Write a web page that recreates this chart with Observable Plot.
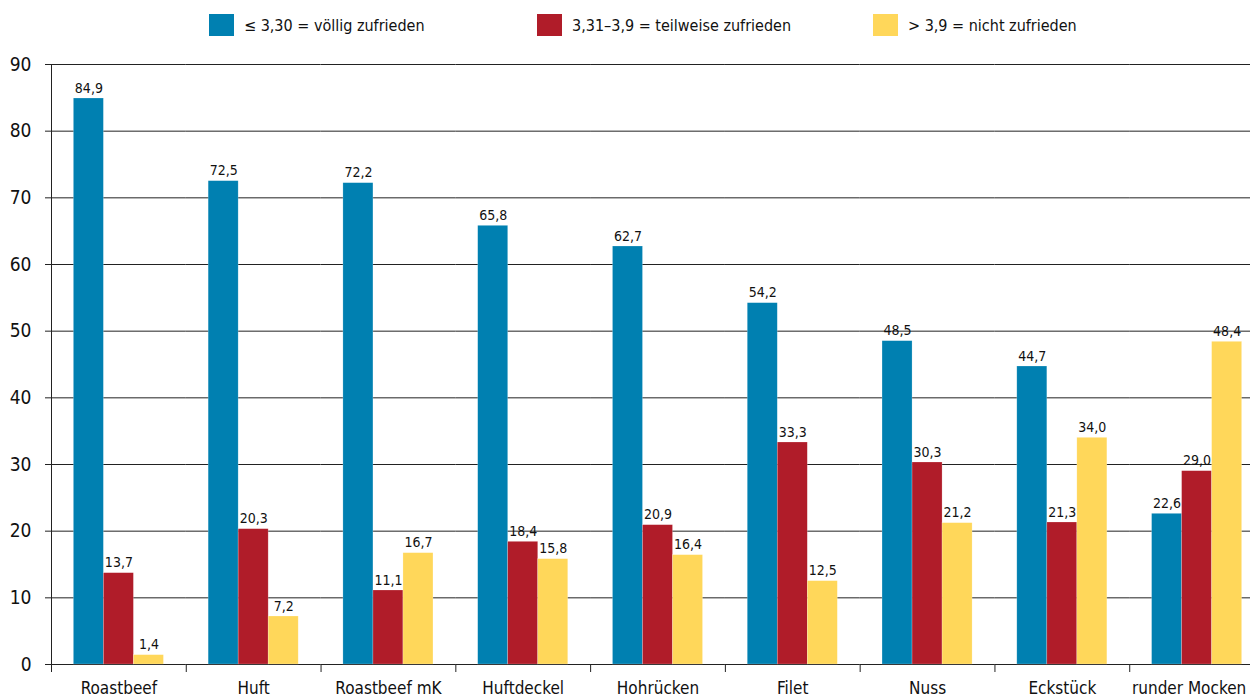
<!DOCTYPE html>
<html><head><meta charset="utf-8">
<script src="https://cdn.jsdelivr.net/npm/d3@7"></script>
<script src="https://cdn.jsdelivr.net/npm/@observablehq/plot@0.6"></script>
<style>
html,body{margin:0;padding:0;overflow:hidden;background:#fff;font-family:"DejaVu Sans Condensed","Liberation Sans Narrow",sans-serif;}
#legend{position:relative;height:50px;width:1250px;}
.item{position:absolute;top:14px;display:flex;align-items:center;font-size:16px;color:#111;white-space:nowrap;}
.sw{width:25px;height:22px;margin-right:10px;}
#chart svg{max-width:none !important;}
</style></head><body>
<div id="legend"></div><div id="chart"></div>
<script>
const categories = ["Roastbeef","Huft","Roastbeef mK","Huftdeckel","Hohrücken","Filet","Nuss","Eckstück","runder Mocken"];
const seriesKeys = ["voellig","teilweise","nicht"];
const seriesLabels = ["≤ 3,30 = völlig zufrieden","3,31–3,9 = teilweise zufrieden","> 3,9 = nicht zufrieden"];
const seriesColors = ["#0080b1","#b01c29","#ffd75a"];
const voelligZufrieden   = [84.9, 72.5, 72.2, 65.8, 62.7, 54.2, 48.5, 44.7, 22.6];
const teilweiseZufrieden = [13.7, 20.3, 11.1, 18.4, 20.9, 33.3, 30.3, 21.3, 29.0];
const nichtZufrieden     = [ 1.4,  7.2, 16.7, 15.8, 16.4, 12.5, 21.2, 34.0, 48.4];
const yTicks = [0,10,20,30,40,50,60,70,80,90];

const seriesValues = [voelligZufrieden, teilweiseZufrieden, nichtZufrieden];
const data = categories.flatMap((c,i)=>seriesKeys.map((s,j)=>({category:c, series:s, value:seriesValues[j][i]})));
const fmt = v => v.toFixed(1).replace(".", ",");

// legend
const legendLefts = [209, 537, 873];
const legend = document.getElementById("legend");
seriesKeys.forEach((k,j)=>{
  const it = document.createElement("div");
  it.className = "item";
  it.style.left = legendLefts[j] + "px";
  const sw = document.createElement("div");
  sw.className = "sw"; sw.style.background = seriesColors[j];
  const tx = document.createElement("span");
  tx.textContent = seriesLabels[j];
  it.appendChild(sw); it.appendChild(tx);
  legend.appendChild(it);
});

const outer = 0.745;
const fxWidth = 1213 / 9;
const barW = fxWidth / (3 + 2 * outer);
const edgeOffset = -(barW/2 + barW*outer);
const lastCat = categories[categories.length - 1];

const chart = Plot.plot({
  width: 1264,
  height: 650,
  marginLeft: 51,
  marginRight: 0,
  marginTop: 14,
  marginBottom: 36,
  style: {fontFamily: '"DejaVu Sans Condensed","Liberation Sans Narrow",sans-serif', color: "#111", background: "#fff", maxWidth: "none"},
  fx: {domain: categories, padding: 0, round: false, label: null, axis: null},
  x: {domain: seriesKeys, paddingInner: 0, paddingOuter: outer, round: false, axis: null},
  y: {domain: [0, 90], ticks: yTicks, label: null},
  color: {domain: seriesKeys, range: seriesColors},
  marks: [
    Plot.gridY(yTicks, {stroke: "#222", strokeOpacity: 1, strokeWidth: 1}),
    Plot.axisY(yTicks, {tickSize: 6, tickPadding: 14, fontSize: 19, label: null, stroke: "#222"}),
    Plot.text(categories.filter(c => c !== lastCat), {fx: d => d, text: d => d, frameAnchor: "bottom", lineAnchor: "top", dy: 17, fontSize: 17, fill: "#111"}),
    Plot.text([lastCat], {fx: d => d, text: d => d, frameAnchor: "bottom", lineAnchor: "top", dy: 17, dx: -8, fontSize: 17, fill: "#111"}),
    Plot.ruleX(categories.slice(0,1), {fx: d => d, x: () => seriesKeys[0], y1: 0, y2: 90, dx: edgeOffset, stroke: "#222"}),
    Plot.ruleX(categories, {fx: d => d, x: () => seriesKeys[0], y1: 0, y2: -1.2, dx: edgeOffset, stroke: "#222"}),
    Plot.barY(data, {fx: "category", x: "series", y: "value", fill: "series", stroke: "#fff", strokeOpacity: 0.35, strokeWidth: 0.6}),
    Plot.text(data, {fx: "category", x: "series", y: "value", text: d => fmt(d.value), lineAnchor: "bottom", dy: -6, fontSize: 14, fill: "#111"})
  ]
});
chart.style.maxWidth = "none";
document.getElementById("chart").appendChild(chart);
</script>
</body></html>
